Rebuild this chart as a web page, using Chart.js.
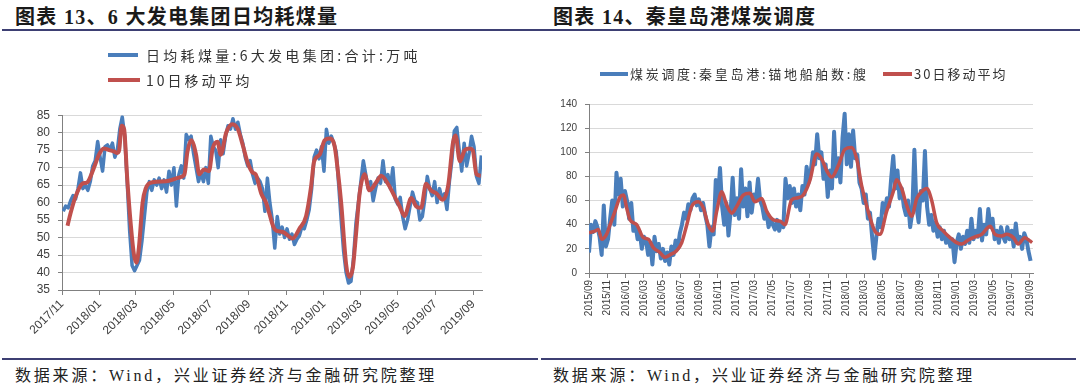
<!DOCTYPE html>
<html>
<head>
<meta charset="utf-8">
<script src="https://cdn.jsdelivr.net/npm/chart.js@4.4.1/dist/chart.umd.min.js"></script>
<style>
  html, body { margin: 0; padding: 0; background: #fff; }
  body { width: 1080px; height: 387px; position: relative; overflow: hidden; }
  .abs { position: absolute; }
  .title { font-family: "Liberation Serif", "Noto Sans CJK SC", serif; font-weight: bold; font-size: 20px; color: #1a1a1a; white-space: nowrap; letter-spacing: 1.3px; }
  .rule { height: 2px; background: #3d3f73; }
  .foot { font-family: "Liberation Serif", "Noto Sans CJK SC", serif; font-size: 16px; color: #222; white-space: nowrap; letter-spacing: 2.8px; }
  .leg { font-family: "Noto Sans CJK SC", sans-serif; color: #333; white-space: nowrap; }
  .mk { position: absolute; height: 4px; }
</style>
</head>
<body>
<script>
// ---------------- DATA: 图表13 6大发电集团日均耗煤量 (万吨) ----------------
const coalAxisStart = '2017-11-01';
const coalTickLabels = ['2017/11','2018/01','2018/03','2018/05','2018/07','2018/09','2018/11','2019/01','2019/03','2019/05','2019/07','2019/09'];
const coalDailyStartDay = 2;   // first sample, days after axis start
const coalDailyStepDays = 4;
const coalDailyValues = [
  57.5, 59, 58.5, 60.5, 62, 61, 64, 68.5, 64, 65,
  63.5, 66, 70.5, 72, 77.5, 73, 69, 76, 76.5, 75,
  77, 73, 75, 81, 84.5, 79, 66, 52, 42, 40.5,
  42, 43.5, 49, 56, 63, 66, 63.5, 66.5, 65, 67,
  64, 66.5, 63, 69, 65, 70, 59, 68, 70.5, 67,
  79.5, 78, 79, 74, 70, 66, 68.5, 66, 70, 65.5,
  79, 76, 75, 70, 78, 74, 79, 82, 81, 84,
  81, 83, 79.5, 77, 73, 70.5, 72, 68, 65.5, 67,
  66, 64, 57.5, 67, 60, 55, 47, 56, 51, 53,
  50, 52.5, 49.5, 51, 48, 49.5, 50.5, 53, 52.5, 55,
  58, 64, 73, 75, 72.5, 76, 69, 81, 77, 79,
  77, 74.5, 65, 55, 46, 40, 37, 37.5, 44, 54,
  60, 66, 72, 68, 64, 66, 60.5, 64, 67, 65.5,
  72, 66, 68, 64, 70, 61, 59.5, 61.5, 56, 52.5,
  55, 59, 63, 60.5, 60, 55, 56, 61, 67.5, 64,
  62, 66, 60, 64, 61, 62.5, 58, 66, 72, 80.5,
  81.5, 75, 69, 77, 70.5, 74, 79, 76, 67.5, 65.5, 73.5
];
const coalMaDays = [9,14,22,33,41,52,60,68,77,85,90,93,97,101,106,112,117,121,125,131,136,147,169,191,199,204,210,218,223,231,239,245,253,258,267,277,286,294,302,310,315,324,332,337,343,348,359,370,375,386,397,405,410,419,427,435,443,448,454,462,467,473,478,484,492,500,511,519,530,541,549,557,568,576,584,592,600,609,619,628,636,640,647,655,663,668,674,681];
const coalMaValues = [53.4,57,61.7,65.4,65.8,70,73.7,75.5,75,74.6,74.2,75,82,81,67,53.4,45.1,42.8,47,59.9,64,65.8,66.1,67.2,68,74.6,77.8,73.7,68.1,69.5,69,75.5,77.4,73.7,80,82.4,81,76.4,71.4,68.6,68.1,62.6,59.9,57,53.4,52,51.6,50.2,49.7,52.5,56.2,64.5,71.8,73.7,77.8,78.3,76.4,70,59.9,42.4,38.7,41.4,50.7,62.6,68.1,63.5,65.8,67.7,65.4,61.7,58.9,56.2,61.3,58.9,58.5,65.4,63.5,62.6,60.8,64.9,77.4,79.2,71.8,75,75.5,75,68.1,67.7];

// ---------------- DATA: 图表14 秦皇岛港锚地船舶数 (艘) ----------------
const shipAxisStart = '2015-09-01';
const shipTickLabels = ['2015/09','2015/11','2016/01','2016/03','2016/05','2016/07','2016/09','2016/11','2017/01','2017/03','2017/05','2017/07','2017/09','2017/11','2018/01','2018/03','2018/05','2018/07','2018/09','2018/11','2019/01','2019/03','2019/05','2019/07','2019/09'];
const shipDailyStartDay = 0;
const shipDailyStepDays = 7;
const shipDailyValues = [
  17, 40, 34, 43, 38, 30, 15, 56, 22, 28,
  45, 60, 40, 83, 65, 78, 55, 68, 60, 45,
  58, 35, 40, 28, 34, 20, 30, 27, 15, 25,
  7, 30, 18, 24, 12, 20, 10, 17, 7, 22,
  15, 27, 20, 33, 40, 50, 45, 57, 52, 62,
  65, 56, 61, 52, 58, 48, 40, 22, 38, 32,
  77, 60, 87, 55, 40, 58, 31, 50, 79, 48,
  62, 45, 86, 55, 70, 47, 75, 50, 65, 60,
  78, 60, 55, 45, 50, 38, 45, 40, 36, 44,
  35, 42, 38, 78, 62, 72, 58, 70, 55, 65,
  52, 72, 65, 88, 75, 85, 100, 90, 115, 95,
  100, 78, 90, 63, 85, 70, 117, 80, 95, 75,
  112, 132, 90, 115, 88, 118, 95, 98, 75, 70,
  58, 65, 45, 50, 30, 12, 30, 45, 38, 58,
  50, 62, 55, 78, 97, 70, 85, 62, 70, 55,
  48, 60, 38, 50, 102, 55, 42, 68, 60, 101,
  55, 40, 48, 35, 42, 30, 38, 28, 35, 25,
  30, 22, 28, 9, 25, 32, 20, 30, 24, 35,
  25, 45, 28, 35, 30, 53, 27, 40, 32, 53,
  38, 45, 28, 35, 25, 38, 30, 26, 38, 28,
  35, 22, 41, 25, 30, 20, 33, 28, 18, 10
];
const shipMaDays = [0,20,31,42,58,70,86,103,114,125,136,158,180,197,213,235,252,268,290,307,324,340,362,379,395,410,423,440,456,473,489,511,533,550,572,589,611,633,649,671,693,710,732,754,771,787,804,826,848,870,887,903,925,947,964,986,1008,1019,1036,1052,1069,1086,1102,1119,1135,1152,1174,1196,1218,1235,1257,1279,1301,1329,1345,1367,1384,1406,1422,1444,1461,1468];
const shipMaValues = [33.4,34.7,36,28,32,40,51,63,64.6,53.7,44,40,29.3,28,21,17,13,15,18.4,25,40,55,59,53.7,40,34.7,51,67.3,56.4,49.6,55,64.6,66,59,61.8,51,44,43,40,60.5,62.4,64.6,76.8,98.5,94.4,85,79.5,89,102.5,104,94.4,72.7,51,34.7,32,51,67.3,77.3,70,56.4,47,61.8,67.3,70,60.5,41.5,34.7,29.3,25.2,24,27.4,30,32,38.8,32,30.7,32,29.3,24,29.3,26.6,25.2];

// ---------------- helpers ----------------
function dayOffset(originStr, label) {
  const o = new Date(originStr + 'T00:00:00Z').getTime();
  const [y, m] = label.split('/').map(Number);
  return Math.round((Date.UTC(y, m - 1, 1) - o) / 86400000);
}
function regularPoints(startDay, step, values) {
  return values.map((v, i) => ({ x: startDay + i * step, y: v }));
}
function pairPoints(days, values) {
  return days.map((d, i) => ({ x: d, y: values[i] }));
}

const BLUE = '#4a7ebb', RED = '#c0504d';

function el(tag, cls, css, text) {
  const e = document.createElement(tag);
  if (cls) e.className = cls;
  Object.assign(e.style, css);
  if (text != null) e.textContent = text;
  document.body.appendChild(e);
  return e;
}

// ---------- static text / decorations ----------
el('div', 'abs title', { left: '15px', top: '1px' }, '图表 13、6 大发电集团日均耗煤量');
el('div', 'abs title', { left: '553px', top: '1px' }, '图表 14、秦皇岛港煤炭调度');
el('div', 'abs rule', { left: '2px', top: '29px', width: '526px' });
el('div', 'abs rule', { left: '528px', top: '29px', width: '552px' });
el('div', 'abs rule', { left: '2px', top: '358px', width: '536px' });
el('div', 'abs rule', { left: '541px', top: '358px', width: '535px' });
el('div', 'abs foot', { left: '15px', top: '362px' }, '数据来源：Wind，兴业证券经济与金融研究院整理');
el('div', 'abs foot', { left: '553px', top: '362px' }, '数据来源：Wind，兴业证券经济与金融研究院整理');

function legendItem(x, y, w, color, text, tx, size, spacing) {
  el('div', 'mk', { left: x + 'px', top: (y - 2) + 'px', width: w + 'px', background: color });
  el('div', 'abs leg', { left: tx + 'px', top: (y - size * 0.75) + 'px', fontSize: size + 'px', letterSpacing: spacing + 'px', lineHeight: (size * 1.5) + 'px' }, text);
}

// ---------- charts ----------
function makeChart(opts) {
  const wrap = el('div', 'abs', { left: opts.left + 'px', top: opts.top + 'px', width: opts.w + 'px', height: opts.h + 'px' });
  const cv = document.createElement('canvas');
  cv.width = opts.w; cv.height = opts.h;
  cv.style.width = opts.w + 'px'; cv.style.height = opts.h + 'px';
  wrap.appendChild(cv);
  const tickDays = opts.tickLabels.map(l => dayOffset(opts.origin, l));
  const labelByDay = new Map(tickDays.map((d, i) => [d, opts.tickLabels[i]]));
  return new Chart(cv.getContext('2d'), {
    type: 'line',
    data: {
      datasets: [
        { label: opts.maLabel, data: opts.ma, borderColor: RED, backgroundColor: RED, borderWidth: opts.maWidth, pointRadius: 0, cubicInterpolationMode: 'monotone', borderJoinStyle: 'round', order: 0 },
        { label: opts.rawLabel, data: opts.raw, borderColor: BLUE, backgroundColor: BLUE, borderWidth: opts.rawWidth, pointRadius: 0, tension: 0, borderJoinStyle: 'round', order: 1 }
      ]
    },
    options: {
      responsive: false, animation: false, events: [],
      layout: { padding: { top: opts.padTop, right: opts.padRight, left: 0, bottom: 0 } },
      plugins: { legend: { display: false }, tooltip: { enabled: false } },
      scales: {
        x: {
          type: 'linear', min: 0, max: opts.xMax,
          afterBuildTicks: s => { s.ticks = tickDays.map(v => ({ value: v })); },
          afterFit: s => { s.height = opts.xH; },
          ticks: { autoSkip: false, maxRotation: opts.rot, minRotation: opts.rot, color: '#404040', padding: 2,
                   font: { family: 'Liberation Sans', size: opts.xFont }, callback: v => labelByDay.get(v) || '' },
          grid: { drawOnChartArea: false, drawTicks: true, tickLength: 5, tickColor: '#808080' },
          border: { color: '#808080', width: 1 }
        },
        y: {
          min: opts.yMin, max: opts.yMax,
          afterFit: s => { s.width = opts.yW; },
          ticks: { stepSize: opts.yStep, color: '#404040', padding: 8, font: { family: 'Liberation Sans', size: opts.yFont } },
          grid: { color: '#d9d9d9', lineWidth: 1, tickLength: 4, tickColor: '#808080' },
          border: { color: '#808080', width: 1 }
        }
      }
    }
  });
}

makeChart({
  left: 0, top: 100, w: 530, h: 255, padTop: 9, padRight: 48, xH: 65, yW: 62,
  origin: coalAxisStart, tickLabels: coalTickLabels, xMax: 683, rot: 45, xFont: 12, yFont: 12,
  yMin: 35, yMax: 85, yStep: 5,
  raw: regularPoints(coalDailyStartDay, coalDailyStepDays, coalDailyValues),
  ma: pairPoints(coalMaDays, coalMaValues),
  rawLabel: '日均耗煤量:6大发电集团:合计:万吨', maLabel: '10日移动平均', rawWidth: 3.5, maWidth: 4
});
makeChart({
  left: 540, top: 90, w: 540, h: 265, padTop: 11, padRight: 47, xH: 82, yW: 49,
  origin: shipAxisStart, tickLabels: shipTickLabels, xMax: 1471, rot: 90, xFont: 10, yFont: 10,
  yMin: 0, yMax: 140, yStep: 20,
  raw: regularPoints(shipDailyStartDay, shipDailyStepDays, shipDailyValues),
  ma: pairPoints(shipMaDays, shipMaValues),
  rawLabel: '煤炭调度:秦皇岛港:锚地船舶数:艘', maLabel: '30日移动平均', rawWidth: 4, maWidth: 3.5
});

legendItem(108, 55, 30, BLUE, '日均耗煤量:6大发电集团:合计:万吨', 146, 14, 3.3);
legendItem(108, 80, 32, RED, '10日移动平均', 146, 14, 3);
legendItem(600, 74, 28, BLUE, '煤炭调度:秦皇岛港:锚地船舶数:艘', 630, 13, 2.7);
legendItem(883, 74, 29, RED, '30日移动平均', 914, 13, 2);
</script>
</body>
</html>
